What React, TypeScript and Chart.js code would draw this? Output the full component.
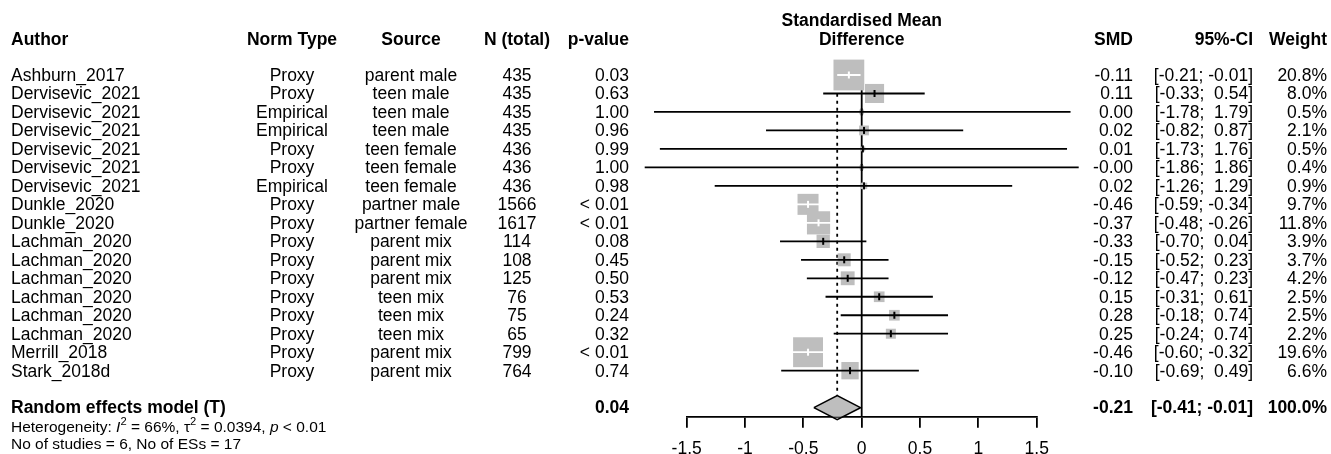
import { useEffect, useRef } from 'react';
import { Chart, registerables } from 'chart.js';

Chart.register(...registerables);

// ---- study-level data ----
const authors = [
  'Ashburn_2017', 'Dervisevic_2021', 'Dervisevic_2021', 'Dervisevic_2021', 'Dervisevic_2021',
  'Dervisevic_2021', 'Dervisevic_2021', 'Dunkle_2020', 'Dunkle_2020', 'Lachman_2020',
  'Lachman_2020', 'Lachman_2020', 'Lachman_2020', 'Lachman_2020', 'Lachman_2020',
  'Merrill_2018', 'Stark_2018d',
];
const normTypes = [
  'Proxy', 'Proxy', 'Empirical', 'Empirical', 'Proxy', 'Proxy', 'Empirical', 'Proxy', 'Proxy',
  'Proxy', 'Proxy', 'Proxy', 'Proxy', 'Proxy', 'Proxy', 'Proxy', 'Proxy',
];
const sources = [
  'parent male', 'teen male', 'teen male', 'teen male', 'teen female', 'teen female',
  'teen female', 'partner male', 'partner female', 'parent mix', 'parent mix', 'parent mix',
  'teen mix', 'teen mix', 'teen mix', 'parent mix', 'parent mix',
];
const nTotal = [435, 435, 435, 435, 436, 436, 436, 1566, 1617, 114, 108, 125, 76, 75, 65, 799, 764];
const pValues = [
  '0.03', '0.63', '1.00', '0.96', '0.99', '1.00', '0.98', '< 0.01', '< 0.01', '0.08', '0.45',
  '0.50', '0.53', '0.24', '0.32', '< 0.01', '0.74',
];
const smd = [-0.11, 0.11, 0.0, 0.02, 0.01, -0.0, 0.02, -0.46, -0.37, -0.33, -0.15, -0.12, 0.15, 0.28, 0.25, -0.46, -0.1];
const ciLower = [-0.21, -0.33, -1.78, -0.82, -1.73, -1.86, -1.26, -0.59, -0.48, -0.7, -0.52, -0.47, -0.31, -0.18, -0.24, -0.6, -0.69];
const ciUpper = [-0.01, 0.54, 1.79, 0.87, 1.76, 1.86, 1.29, -0.34, -0.26, 0.04, 0.23, 0.23, 0.61, 0.74, 0.74, -0.32, 0.49];
const weights = [20.8, 8.0, 0.5, 2.1, 0.5, 0.4, 0.9, 9.7, 11.8, 3.9, 3.7, 4.2, 2.5, 2.5, 2.2, 19.6, 6.6];

// ---- pooled (random effects) result ----
const pooledLabel = 'Random effects model (T)';
const pooledSmd = -0.21;
const pooledLower = -0.41;
const pooledUpper = -0.01;
const pooledP = '0.04';
const pooledWeight = 100.0;
const hetI2 = '66%';
const hetTau2 = '0.0394';
const hetP = '< 0.01';
const numStudies = 6;
const numEffects = 17;

// ---- axis ----
const axisMin = -1.5;
const axisMax = 1.5;
const axisStep = 0.5;

// ---- layout ----
const W = 1331;
const H = 454;
const PLOT_LEFT = 686.7;
const PLOT_RIGHT = 1036.7;
const AXIS_Y = 416.7;
const ROW0_Y = 75;
const ROW_H = 18.48;
const SQUARE_K = 6.75;
const FONT = '"Liberation Sans", Arial, Helvetica, sans-serif';
const TXT = 17.5;
const SMALL = 15.5;
const GREY = '#BEBEBE';
const LW = 1.8;

const fmt2 = (v: number) => (v < 0 || Object.is(v, -0) ? '-' : '') + Math.abs(v).toFixed(2);
const fmtCI = (lo: number, hi: number) =>
  `[${lo < 0 ? '' : ' '}${fmt2(lo)}; ${hi < 0 || Object.is(hi, -0) ? '' : ' '}${fmt2(hi)}]`;

type Piece = { t: string; italic?: boolean; sup?: boolean };

export default function App() {
  const ref = useRef<HTMLCanvasElement>(null);

  useEffect(() => {
    const canvas = ref.current;
    if (!canvas) return;
    const n = smd.length;
    const pooledRow = n + 1;
    const pxPerUnit = (PLOT_RIGHT - PLOT_LEFT) / (axisMax - axisMin);
    const side = weights.map((w) => SQUARE_K * Math.sqrt(w));
    // a narrow interval that sits inside its square is drawn in white
    const inside = smd.map((_, i) => (ciUpper[i] - ciLower[i]) * pxPerUnit < side[i] * 1.5);

    const blackCI: any[] = [];
    const whiteCI: any[] = [];
    smd.forEach((_, i) => {
      const target = inside[i] ? whiteCI : blackCI;
      target.push({ x: ciLower[i], y: i }, { x: ciUpper[i], y: i }, { x: ciUpper[i], y: null });
    });

    const yMin = -ROW0_Y / ROW_H;
    const yMax = yMin + AXIS_Y / ROW_H;
    const dH = 12 / ROW_H;

    const tablePlugin = {
      id: 'forestTable',
      afterDraw(chart: any) {
        const ctx: CanvasRenderingContext2D = chart.ctx;
        const ys = chart.scales.y;
        const xs = chart.scales.x;
        const rowY = (r: number) => ys.getPixelForValue(r) + 1;
        const put = (
          t: string,
          x: number,
          y: number,
          align: CanvasTextAlign,
          bold = false,
          size = TXT,
        ) => {
          ctx.font = `${bold ? 'bold ' : ''}${size}px ${FONT}`;
          ctx.textAlign = align;
          ctx.textBaseline = 'middle';
          ctx.fillStyle = '#000';
          ctx.fillText(t, x, y);
        };
        ctx.save();

        // column headers
        const hy = 40;
        put('Author', 11, hy, 'left', true);
        put('Norm Type', 292, hy, 'center', true);
        put('Source', 411, hy, 'center', true);
        put('N (total)', 517, hy, 'center', true);
        put('p-value', 629, hy, 'right', true);
        const xc = xs.getPixelForValue(0);
        put('Standardised Mean', xc, 21, 'center', true);
        put('Difference', xc, hy, 'center', true);
        put('SMD', 1133, hy, 'right', true);
        put('95%-CI', 1253, hy, 'right', true);
        put('Weight', 1327, hy, 'right', true);

        // study rows
        for (let i = 0; i < n; i++) {
          const y = rowY(i);
          put(authors[i], 11, y, 'left');
          put(normTypes[i], 292, y, 'center');
          put(sources[i], 411, y, 'center');
          put(String(nTotal[i]), 517, y, 'center');
          put(pValues[i], 629, y, 'right');
          put(fmt2(smd[i]), 1133, y, 'right');
          put(fmtCI(ciLower[i], ciUpper[i]), 1253, y, 'right');
          put(weights[i].toFixed(1) + '%', 1327, y, 'right');
        }

        // pooled row
        const py = rowY(pooledRow);
        put(pooledLabel, 11, py, 'left', true);
        put(pooledP, 629, py, 'right', true);
        put(fmt2(pooledSmd), 1133, py, 'right', true);
        put(fmtCI(pooledLower, pooledUpper), 1253, py, 'right', true);
        put(pooledWeight.toFixed(1) + '%', 1327, py, 'right', true);

        // heterogeneity statistics
        const rich = (pieces: Piece[], x0: number, y: number, size: number) => {
          let x = x0;
          ctx.textAlign = 'left';
          ctx.textBaseline = 'alphabetic';
          ctx.fillStyle = '#000';
          for (const p of pieces) {
            const s = p.sup ? size * 0.72 : size;
            ctx.font = `${p.italic ? 'italic ' : ''}${s}px ${FONT}`;
            const yy = p.sup ? y - size * 0.42 : y;
            ctx.fillText(p.t, x, yy);
            x += ctx.measureText(p.t).width;
          }
        };
        rich(
          [
            { t: 'Heterogeneity: ' },
            { t: 'I', italic: true },
            { t: '2', sup: true },
            { t: ` = ${hetI2}, ` },
            { t: 'τ' },
            { t: '2', sup: true },
            { t: ` = ${hetTau2}, ` },
            { t: 'p', italic: true },
            { t: ` ${hetP}` },
          ],
          11,
          432,
          SMALL,
        );
        rich([{ t: `No of studies = ${numStudies}, No of ESs = ${numEffects}` }], 11, 449, SMALL);

        ctx.restore();
      },
    };

    const chart = new Chart(canvas, {
      type: 'scatter',
      data: {
        datasets: [
          {
            // line of no effect
            data: [
              { x: 0, y: -0.5 },
              { x: 0, y: yMax },
            ],
            showLine: true,
            borderColor: '#000',
            borderWidth: LW,
            pointRadius: 0,
            clip: false,
            order: 10,
          },
          {
            // pooled estimate reference
            data: [
              { x: pooledSmd, y: -0.5 },
              { x: pooledSmd, y: pooledRow },
            ],
            showLine: true,
            borderColor: '#000',
            borderWidth: LW,
            borderDash: [3, 4],
            pointRadius: 0,
            clip: false,
            order: 9,
          },
          {
            // weighted squares
            data: smd.map((v, i) => ({ x: v, y: i })),
            pointStyle: 'rect',
            pointRadius: side.map((s) => s / Math.SQRT2),
            pointBackgroundColor: GREY,
            pointBorderWidth: 0,
            showLine: false,
            clip: false,
            order: 8,
          },
          {
            data: blackCI,
            showLine: true,
            spanGaps: false,
            borderColor: '#000',
            borderWidth: LW,
            pointRadius: 0,
            clip: false,
            order: 7,
          },
          {
            data: whiteCI,
            showLine: true,
            spanGaps: false,
            borderColor: '#fff',
            borderWidth: LW,
            pointRadius: 0,
            clip: false,
            order: 6,
          },
          {
            // point estimate marks
            data: smd.map((v, i) => ({ x: v, y: i })),
            pointStyle: 'line',
            pointRotation: 90,
            pointRadius: 3.5,
            pointBorderWidth: 2,
            pointBorderColor: inside.map((b) => (b ? '#fff' : '#000')),
            showLine: false,
            clip: false,
            order: 5,
          },
          {
            // pooled diamond
            data: [
              { x: pooledLower, y: pooledRow },
              { x: pooledSmd, y: pooledRow - dH },
              { x: pooledUpper, y: pooledRow },
              { x: pooledSmd, y: pooledRow + dH },
              { x: pooledLower, y: pooledRow },
            ],
            showLine: true,
            fill: 'shape',
            backgroundColor: GREY,
            borderColor: '#000',
            borderWidth: 1.6,
            pointRadius: 0,
            clip: false,
            order: 1,
          },
        ] as any,
      },
      options: {
        responsive: false,
        animation: false,
        devicePixelRatio: 1,
        events: [],
        layout: {
          autoPadding: false,
          padding: { left: PLOT_LEFT, right: W - PLOT_RIGHT, top: 0, bottom: 0 },
        },
        plugins: { legend: { display: false }, tooltip: { enabled: false } },
        scales: {
          x: {
            type: 'linear',
            position: 'bottom',
            min: axisMin,
            max: axisMax,
            ticks: {
              stepSize: axisStep,
              color: '#000',
              font: { family: FONT, size: TXT },
              padding: 11,
              maxRotation: 0,
              autoSkip: false,
              callback: (v: any) => String(Math.round(Number(v) * 10) / 10),
            },
            grid: {
              drawOnChartArea: false,
              drawTicks: true,
              tickLength: 11,
              color: '#000',
              lineWidth: LW,
            },
            border: { display: true, color: '#000', width: LW },
            afterFit: (s: any) => {
              s.height = H - AXIS_Y;
            },
          },
          y: { type: 'linear', display: false, reverse: true, min: yMin, max: yMax },
        },
      } as any,
      plugins: [tablePlugin],
    });

    return () => chart.destroy();
  }, []);

  return (
    <div style={{ position: 'absolute', left: 0, top: 0, width: W, height: H, background: '#fff' }}>
      <canvas ref={ref} width={W} height={H} style={{ display: 'block', width: W, height: H }} />
    </div>
  );
}
